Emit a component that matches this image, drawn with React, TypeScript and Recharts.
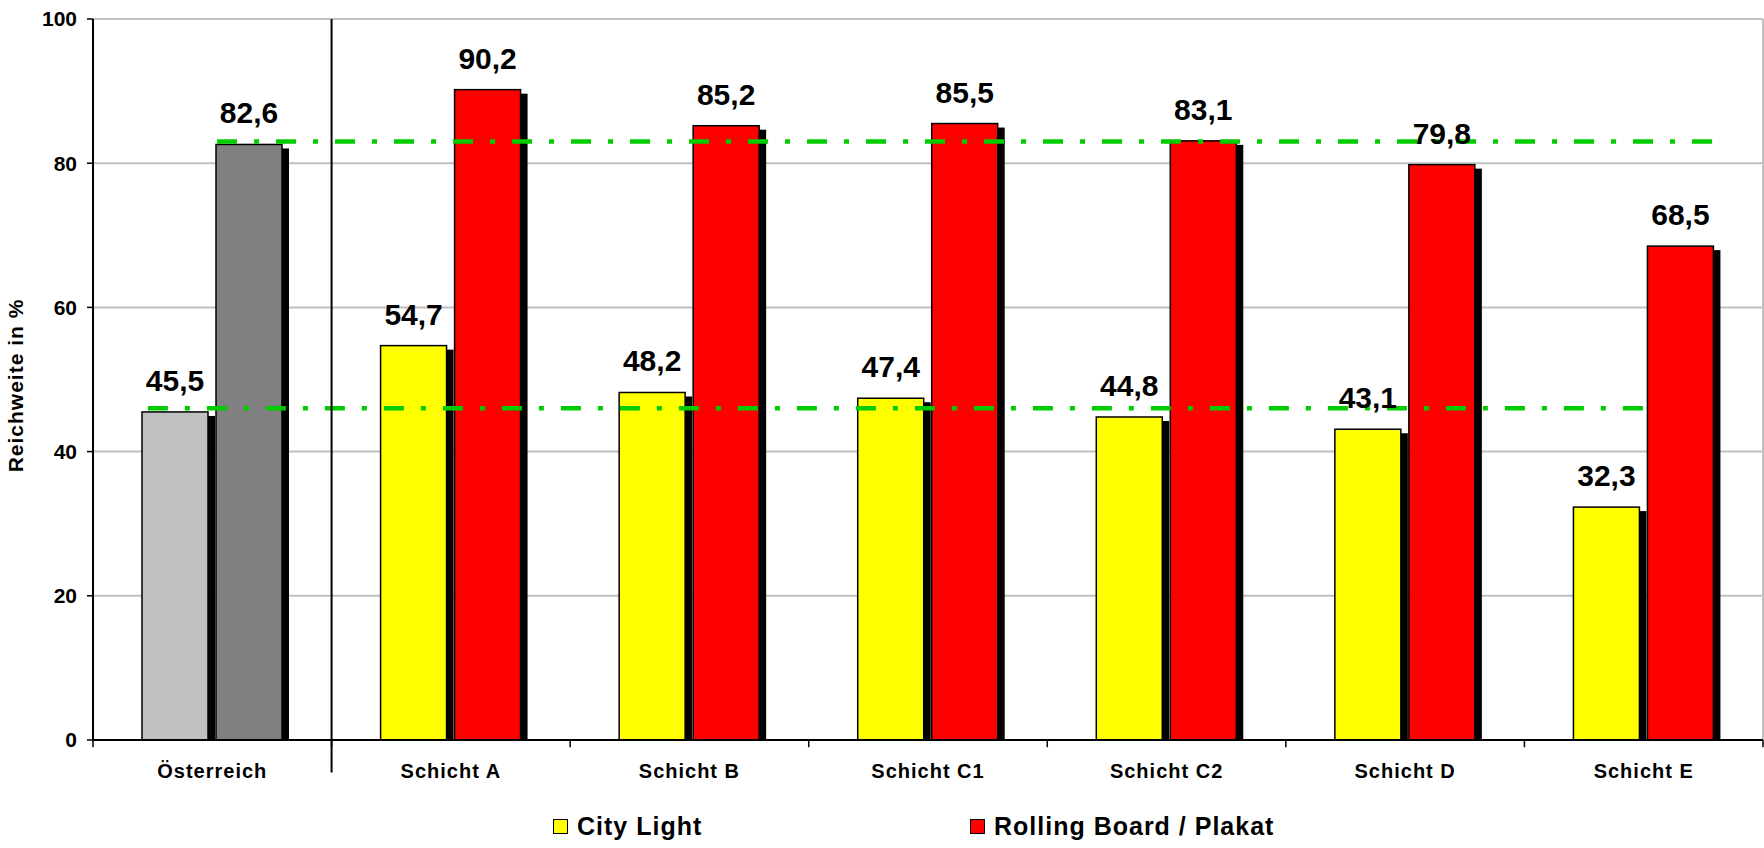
import React from 'react';
import {
  BarChart,
  Bar,
  Cell,
  XAxis,
  YAxis,
  CartesianGrid,
  ReferenceLine,
  LabelList,
} from 'recharts';

// ── Data ────────────────────────────────────────────────────────────────────
const categories = ['Österreich', 'Schicht A', 'Schicht B', 'Schicht C1', 'Schicht C2', 'Schicht D', 'Schicht E'];
const cityLight = [45.5, 54.7, 48.2, 47.4, 44.8, 43.1, 32.3];
const rollingBoard = [82.6, 90.2, 85.2, 85.5, 83.1, 79.8, 68.5];
const yTicks = [0, 20, 40, 60, 80, 100];

// Österreich is the benchmark column, drawn in greys
const cityLightColors = ['#C0C0C0', '#FFFF00', '#FFFF00', '#FFFF00', '#FFFF00', '#FFFF00', '#FFFF00'];
const rollingBoardColors = ['#808080', '#FF0000', '#FF0000', '#FF0000', '#FF0000', '#FF0000', '#FF0000'];

// benchmark lines (value + extent in category units)
const benchmarkValues = [83.0, 46.0];
const benchmarkFrom = [0.52, 0.23];
const benchmarkTo = [6.85, 6.56];

const chartData = categories.map((name, i) => ({
  name,
  pos: i + 0.5, // category centre in category units (for the linear helper axis)
  cityLight: cityLight[i],
  rollingBoard: rollingBoard[i],
}));

// category boundaries 0..7 for the x-axis tick marks
const boundaryTicks = categories.map((_, i) => i).concat(categories.length);

const fmt = (v: number) => v.toFixed(1).replace('.', ',');

// Excel-style bar with a black drop shadow on the right
function ShadowBar(props: any) {
  const { x, y, width, height, fill } = props;
  if (!height || height <= 0) return null;
  return (
    <g>
      <rect x={x + width} y={y + 4} width={7} height={height - 4} fill="#000" />
      <rect x={x} y={y} width={width} height={height} fill={fill} stroke="#000" strokeWidth={1.5} />
    </g>
  );
}

function CategoryTick(props: any) {
  const { x, y, payload } = props;
  return (
    <text
      x={x}
      y={y}
      dy="0.71em"
      textAnchor="middle"
      fontSize={20}
      fontWeight="bold"
      fill="#000"
      style={{ letterSpacing: '1px' }}
    >
      {payload.value}
    </text>
  );
}

function YLabel(props: any) {
  const vb = props.viewBox || { x: 0, y: 0, height: 0 };
  const cx = vb.x + 15;
  const cy = vb.y + vb.height / 2 + 6;
  return (
    <text
      x={cx}
      y={cy}
      transform={`rotate(-90, ${cx}, ${cy})`}
      textAnchor="middle"
      dominantBaseline="central"
      fontSize={21}
      fontWeight="bold"
      fill="#000"
      style={{ letterSpacing: '1px' }}
    >
      Reichweite in %
    </text>
  );
}

function LegendItem({ color, label, left }: { color: string; label: string; left: number }) {
  return (
    <div style={{ position: 'absolute', left, top: 811, display: 'flex', alignItems: 'center', height: 30 }}>
      <div style={{ width: 15, height: 15, boxSizing: 'border-box', border: '1.5px solid #000', background: color }} />
      <span style={{ marginLeft: 9, fontSize: 25, fontWeight: 'bold', letterSpacing: '1px', color: '#000' }}>{label}</span>
    </div>
  );
}

export default function App() {
  return (
    <div
      style={{
        position: 'absolute',
        left: 0,
        top: 0,
        width: 1764,
        height: 848,
        background: '#fff',
        fontFamily: '"Liberation Sans", Arial, sans-serif',
      }}
    >
      <BarChart
        width={1764}
        height={848}
        data={chartData}
        margin={{ top: 19, right: 1, left: 0, bottom: 58 }}
        barSize={66}
        barGap={8}
      >
        <CartesianGrid vertical={false} stroke="#C0C0C0" strokeWidth={2} />
        <XAxis
          dataKey="name"
          height={50}
          axisLine={{ stroke: '#000', strokeWidth: 2 }}
          tickLine={false}
          tickSize={0}
          tickMargin={24}
          tick={<CategoryTick />}
          interval={0}
        />
        {/* hidden linear axis in category units, used for boundary marks and benchmark lines */}
        <XAxis
          xAxisId="num"
          dataKey="pos"
          type="number"
          orientation="top"
          domain={[0, categories.length]}
          allowDataOverflow
          hide
        />
        <YAxis
          width={93}
          domain={[0, 100]}
          ticks={yTicks}
          tickSize={6}
          tickMargin={10}
          axisLine={{ stroke: '#000', strokeWidth: 2 }}
          tickLine={{ stroke: '#000', strokeWidth: 1.5 }}
          tick={{ fontSize: 21, fontWeight: 'bold', fill: '#000' }}
          label={{ content: <YLabel /> }}
        />
        {/* right border of the plot area */}
        <ReferenceLine xAxisId="num" x={categories.length} ifOverflow="visible" stroke="#C0C0C0" strokeWidth={2} />

        <Bar dataKey="cityLight" name="City Light" fill="#FFFF00" shape={<ShadowBar />} isAnimationActive={false}>
          {chartData.map((_, i) => (
            <Cell key={`cl-${i}`} fill={cityLightColors[i]} />
          ))}
          <LabelList dataKey="cityLight" position="top" offset={21} formatter={fmt} fontSize={30} fontWeight="bold" fill="#000" />
        </Bar>
        <Bar dataKey="rollingBoard" name="Rolling Board / Plakat" fill="#FF0000" shape={<ShadowBar />} isAnimationActive={false}>
          {chartData.map((_, i) => (
            <Cell key={`rb-${i}`} fill={rollingBoardColors[i]} />
          ))}
          <LabelList dataKey="rollingBoard" position="top" offset={21} formatter={fmt} fontSize={30} fontWeight="bold" fill="#000" />
        </Bar>

        {/* tick marks at category boundaries */}
        {boundaryTicks.map((b) => (
          <ReferenceLine
            key={`tk-${b}`}
            xAxisId="num"
            segment={[{ x: b, y: 0 }, { x: b, y: -1 }]}
            ifOverflow="visible"
            stroke="#000"
            strokeWidth={1.5}
          />
        ))}

        {/* green dash-dot benchmark lines */}
        {benchmarkValues.map((v, i) => (
          <ReferenceLine
            key={`bm-${i}`}
            xAxisId="num"
            segment={[{ x: benchmarkFrom[i], y: v }, { x: benchmarkTo[i], y: v }]}
            ifOverflow="visible"
            stroke="#00CC00"
            strokeWidth={4.5}
            strokeDasharray="20 17 5 17"
          />
        ))}

        {/* separator between Österreich and the layers */}
        <ReferenceLine
          xAxisId="num"
          segment={[{ x: 1, y: 100 }, { x: 1, y: -4.5 }]}
          ifOverflow="visible"
          stroke="#000"
          strokeWidth={2}
        />
      </BarChart>

      <LegendItem color="#FFFF00" label="City Light" left={553} />
      <LegendItem color="#FF0000" label="Rolling Board / Plakat" left={970} />
    </div>
  );
}
